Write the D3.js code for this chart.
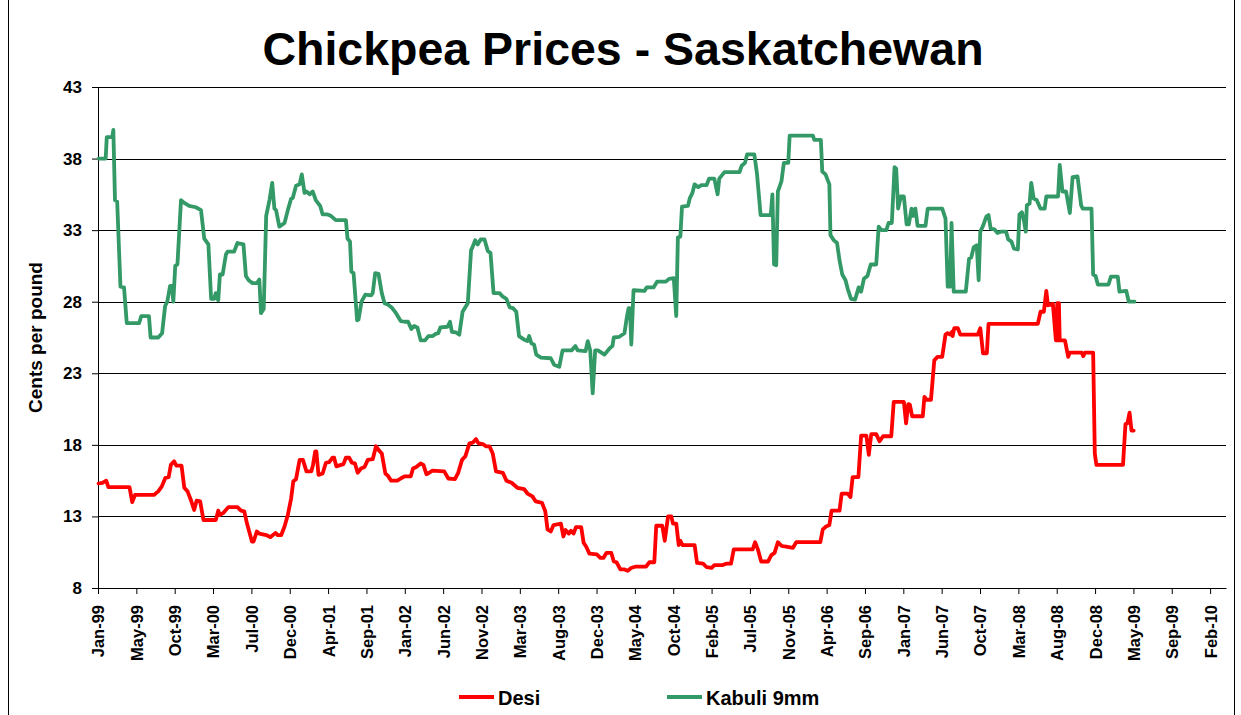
<!DOCTYPE html>
<html>
<head>
<meta charset="utf-8">
<script src="https://cdn.jsdelivr.net/npm/d3@7"></script>
<style>
  body { margin: 0; background: #fff; }
  svg text { font-family: Arial, 'Liberation Sans', sans-serif; font-weight: bold; fill: #000; }
</style>
</head>
<body>
<div id="chart"></div>
<script>
// Chart data (weekly price breakpoints)
var seriesNames = ['Desi', 'Kabuli 9mm']
var seriesColours = ['#ff0000', '#339966']

var desiPrices = [
  ['1999-01-08', 15.3], ['1999-01-22', 15.35], ['1999-02-05', 15.5], ['1999-02-13', 15.05], ['1999-05-01', 15.05],
  ['1999-05-11', 14.0], ['1999-05-21', 14.5], ['1999-07-29', 14.5], ['1999-08-14', 14.75], ['1999-08-27', 15.1],
  ['1999-09-09', 15.7], ['1999-09-21', 15.75], ['1999-09-29', 16.6], ['1999-10-11', 16.85], ['1999-10-19', 16.55],
  ['1999-11-07', 16.55], ['1999-11-17', 15.0], ['1999-11-29', 14.75], ['1999-12-11', 14.15], ['1999-12-23', 13.45],
  ['2000-01-01', 14.1], ['2000-01-14', 14.05], ['2000-01-26', 12.75], ['2000-03-11', 12.75], ['2000-03-20', 13.4],
  ['2000-03-26', 13.1], ['2000-04-08', 13.25], ['2000-04-26', 13.65], ['2000-05-29', 13.65], ['2000-06-11', 13.4],
  ['2000-06-23', 13.35], ['2000-07-03', 12.5], ['2000-07-21', 11.25], ['2000-07-27', 11.25], ['2000-08-08', 11.95],
  ['2000-08-17', 11.8], ['2000-09-11', 11.7], ['2000-09-26', 11.55], ['2000-10-15', 11.85], ['2000-10-23', 11.7],
  ['2000-11-05', 11.7], ['2000-11-17', 12.3], ['2000-11-29', 13.1], ['2000-12-11', 14.25], ['2000-12-19', 15.45],
  ['2000-12-29', 15.6], ['2001-01-11', 16.95], ['2001-01-23', 16.95], ['2001-02-05', 16.15], ['2001-02-23', 16.15],
  ['2001-03-01', 16.6], ['2001-03-09', 17.55], ['2001-03-13', 17.55], ['2001-03-21', 15.9], ['2001-04-05', 16.0],
  ['2001-04-17', 16.75], ['2001-04-29', 16.8], ['2001-05-11', 17.1], ['2001-05-17', 17.1], ['2001-05-25', 16.5],
  ['2001-06-11', 16.6], ['2001-06-20', 16.65], ['2001-06-29', 17.1], ['2001-07-11', 17.1], ['2001-07-21', 16.75],
  ['2001-08-01', 16.7], ['2001-08-11', 16.05], ['2001-08-23', 16.35], ['2001-09-05', 16.45], ['2001-09-17', 16.95],
  ['2001-10-05', 17.0], ['2001-10-17', 17.9], ['2001-10-26', 17.65], ['2001-11-07', 17.4], ['2001-11-20', 16.0],
  ['2001-11-29', 15.85], ['2001-12-11', 15.5], ['2002-01-03', 15.5], ['2002-01-15', 15.65], ['2002-01-29', 15.8],
  ['2002-02-21', 15.8], ['2002-03-01', 16.35], ['2002-03-13', 16.45], ['2002-03-29', 16.7], ['2002-04-08', 16.6],
  ['2002-04-19', 15.95], ['2002-04-29', 16.05], ['2002-05-11', 16.2], ['2002-06-23', 16.15], ['2002-07-08', 15.65],
  ['2002-08-01', 15.6], ['2002-08-13', 16.05], ['2002-08-27', 16.95], ['2002-09-08', 17.2], ['2002-09-23', 18.1],
  ['2002-10-05', 18.15], ['2002-10-17', 18.4], ['2002-10-26', 18.1], ['2002-11-11', 18.05], ['2002-11-23', 17.9],
  ['2002-12-05', 17.9], ['2002-12-17', 17.4], ['2002-12-29', 16.15], ['2003-01-23', 16.05], ['2003-02-05', 15.5],
  ['2003-02-24', 15.35], ['2003-03-17', 15.0], ['2003-04-11', 14.9], ['2003-04-23', 14.6], ['2003-05-11', 14.4],
  ['2003-05-23', 14.05], ['2003-06-15', 13.95], ['2003-06-27', 13.35], ['2003-07-05', 12.1], ['2003-07-17', 11.95],
  ['2003-07-27', 12.4], ['2003-08-23', 12.5], ['2003-09-01', 11.6], ['2003-09-09', 12.05], ['2003-09-21', 11.8],
  ['2003-09-29', 12.0], ['2003-10-08', 11.8], ['2003-10-17', 12.25], ['2003-11-05', 12.25], ['2003-11-14', 11.15],
  ['2003-11-23', 10.9], ['2003-12-05', 10.4], ['2004-01-01', 10.35], ['2004-01-14', 10.1], ['2004-01-25', 10.1],
  ['2004-02-05', 10.45], ['2004-02-23', 10.45], ['2004-03-03', 9.85], ['2004-03-13', 9.8], ['2004-03-27', 9.3],
  ['2004-04-11', 9.3], ['2004-04-23', 9.2], ['2004-05-05', 9.4], ['2004-05-23', 9.5], ['2004-06-29', 9.5],
  ['2004-07-11', 9.8], ['2004-07-29', 9.8], ['2004-08-05', 12.35], ['2004-08-27', 12.35], ['2004-09-05', 11.3],
  ['2004-09-17', 13.0], ['2004-09-29', 13.0], ['2004-10-05', 12.5], ['2004-10-17', 12.5], ['2004-10-26', 11.0],
  ['2004-11-01', 11.3], ['2004-11-09', 11.0], ['2004-12-23', 11.0], ['2005-01-01', 9.75], ['2005-01-23', 9.7],
  ['2005-02-05', 9.45], ['2005-02-23', 9.4], ['2005-03-05', 9.6], ['2005-04-05', 9.6], ['2005-04-17', 9.7],
  ['2005-05-05', 9.7], ['2005-05-15', 10.7], ['2005-07-23', 10.7], ['2005-08-01', 11.2], ['2005-08-11', 10.7],
  ['2005-08-23', 9.85], ['2005-09-17', 9.85], ['2005-09-29', 10.3], ['2005-10-11', 10.45], ['2005-10-23', 11.2],
  ['2005-11-05', 10.95], ['2005-11-17', 10.9], ['2005-12-17', 10.8], ['2005-12-29', 11.2], ['2006-03-27', 11.2],
  ['2006-04-05', 12.1], ['2006-04-17', 12.3], ['2006-04-29', 12.4], ['2006-05-07', 13.4], ['2006-06-05', 13.4],
  ['2006-06-13', 14.6], ['2006-07-05', 14.6], ['2006-07-15', 14.35], ['2006-07-23', 15.75], ['2006-08-13', 15.75],
  ['2006-08-23', 18.65], ['2006-09-11', 18.65], ['2006-09-20', 17.3], ['2006-09-29', 18.75], ['2006-10-17', 18.75],
  ['2006-10-29', 18.25], ['2006-11-11', 18.6], ['2006-12-11', 18.6], ['2006-12-20', 21.0], ['2007-01-26', 21.0],
  ['2007-02-03', 19.5], ['2007-02-11', 20.85], ['2007-02-17', 20.8], ['2007-02-25', 20.0], ['2007-04-05', 20.0],
  ['2007-04-11', 21.35], ['2007-04-19', 21.15], ['2007-05-05', 21.15], ['2007-05-17', 23.9], ['2007-05-29', 24.15],
  ['2007-06-15', 24.15], ['2007-06-27', 25.7], ['2007-07-05', 25.8], ['2007-07-14', 25.7], ['2007-07-21', 25.9],
  ['2007-07-23', 25.6], ['2007-07-29', 26.15], ['2007-08-11', 26.15], ['2007-08-20', 25.7], ['2007-10-23', 25.7],
  ['2007-11-01', 26.15], ['2007-11-11', 24.4], ['2007-11-25', 24.4], ['2007-12-01', 26.45], ['2008-05-29', 26.45],
  ['2008-06-08', 27.3], ['2008-06-20', 27.3], ['2008-06-29', 28.75], ['2008-07-05', 27.75], ['2008-07-23', 27.85],
  ['2008-08-03', 25.3], ['2008-08-08', 27.9], ['2008-08-11', 25.3], ['2008-08-14', 27.9], ['2008-08-17', 25.3],
  ['2008-09-05', 25.3], ['2008-09-17', 24.15], ['2008-09-23', 24.45], ['2008-11-05', 24.45], ['2008-11-11', 24.2],
  ['2008-11-17', 24.45], ['2008-12-17', 24.45], ['2008-12-23', 17.4], ['2008-12-29', 16.6], ['2009-04-05', 16.6],
  ['2009-04-14', 19.45], ['2009-04-21', 19.5], ['2009-04-29', 20.25], ['2009-05-06', 19.0], ['2009-05-14', 19.0]
]

var kabuliPrices = [
  ['1999-01-08', 38.0], ['1999-02-03', 38.0], ['1999-02-07', 39.5], ['1999-02-27', 39.5], ['1999-03-03', 40.0],
  ['1999-03-09', 35.1], ['1999-03-17', 35.0], ['1999-03-29', 29.05], ['1999-04-11', 29.0], ['1999-04-21', 26.5],
  ['1999-06-05', 26.5], ['1999-06-13', 27.0], ['1999-07-11', 27.0], ['1999-07-17', 25.5], ['1999-08-14', 25.5],
  ['1999-08-28', 25.8], ['1999-09-08', 27.7], ['1999-09-16', 28.0], ['1999-09-26', 29.1], ['1999-10-03', 29.1],
  ['1999-10-08', 28.0], ['1999-10-15', 30.5], ['1999-10-23', 30.6], ['1999-11-05', 35.1], ['1999-11-17', 34.9],
  ['1999-12-05', 34.7], ['1999-12-29', 34.6], ['2000-01-17', 34.4], ['2000-01-29', 32.4], ['2000-02-13', 32.0],
  ['2000-02-23', 28.2], ['2000-03-05', 28.2], ['2000-03-11', 28.6], ['2000-03-20', 28.1], ['2000-03-26', 29.9],
  ['2000-04-05', 29.9], ['2000-04-17', 31.3], ['2000-04-23', 31.5], ['2000-05-17', 31.5], ['2000-05-29', 32.1],
  ['2000-06-20', 32.0], ['2000-06-29', 29.8], ['2000-07-09', 29.5], ['2000-07-23', 29.3], ['2000-08-08', 29.3],
  ['2000-08-17', 29.55], ['2000-08-23', 27.2], ['2000-09-02', 27.5], ['2000-09-11', 34.0], ['2000-09-23', 35.1],
  ['2000-10-03', 36.3], ['2000-10-11', 34.5], ['2000-10-17', 34.4], ['2000-10-29', 33.25], ['2000-11-17', 33.5],
  ['2000-11-29', 34.4], ['2000-12-11', 35.2], ['2000-12-17', 35.25], ['2000-12-29', 36.1], ['2001-01-11', 36.2],
  ['2001-01-19', 36.9], ['2001-01-29', 35.6], ['2001-02-05', 35.7], ['2001-02-17', 35.5], ['2001-02-28', 35.7],
  ['2001-03-11', 35.1], ['2001-03-27', 34.7], ['2001-04-05', 34.1], ['2001-04-23', 34.1], ['2001-05-05', 34.0],
  ['2001-05-23', 33.7], ['2001-06-29', 33.7], ['2001-07-05', 32.4], ['2001-07-14', 32.2], ['2001-07-19', 30.1],
  ['2001-07-27', 30.0], ['2001-08-09', 26.7], ['2001-08-14', 26.75], ['2001-08-25', 28.0], ['2001-09-08', 28.5],
  ['2001-09-29', 28.45], ['2001-10-05', 28.6], ['2001-10-14', 30.0], ['2001-10-26', 29.95], ['2001-11-07', 28.6],
  ['2001-11-17', 27.9], ['2001-11-29', 27.8], ['2001-12-13', 27.6], ['2001-12-29', 27.2], ['2002-01-15', 26.65],
  ['2002-01-29', 26.6], ['2002-02-11', 26.6], ['2002-02-23', 26.1], ['2002-03-05', 26.3], ['2002-03-17', 26.2],
  ['2002-03-29', 25.3], ['2002-04-14', 25.3], ['2002-04-26', 25.6], ['2002-05-11', 25.6], ['2002-05-23', 25.75],
  ['2002-06-01', 25.8], ['2002-06-09', 26.2], ['2002-07-05', 26.25], ['2002-07-14', 26.6], ['2002-07-21', 25.9],
  ['2002-08-05', 25.85], ['2002-08-17', 25.7], ['2002-08-29', 27.3], ['2002-09-17', 27.9], ['2002-09-29', 31.6],
  ['2002-10-04', 31.8], ['2002-10-14', 32.3], ['2002-10-23', 32.0], ['2002-11-03', 32.35], ['2002-11-17', 32.35],
  ['2002-11-29', 31.55], ['2002-12-09', 31.4], ['2002-12-20', 28.6], ['2003-01-11', 28.6], ['2003-01-23', 28.35],
  ['2003-02-05', 28.2], ['2003-02-17', 27.6], ['2003-03-01', 27.55], ['2003-03-13', 27.3], ['2003-03-23', 25.6],
  ['2003-04-11', 25.35], ['2003-04-23', 25.25], ['2003-04-29', 25.6], ['2003-05-07', 25.1], ['2003-05-17', 25.0],
  ['2003-05-25', 24.3], ['2003-06-11', 24.1], ['2003-07-17', 24.05], ['2003-07-29', 23.6], ['2003-08-17', 23.45],
  ['2003-08-29', 24.6], ['2003-10-01', 24.6], ['2003-10-15', 24.9], ['2003-10-23', 24.6], ['2003-11-21', 24.55],
  ['2003-11-29', 25.25], ['2003-12-08', 24.6], ['2003-12-17', 21.6], ['2003-12-26', 24.6], ['2004-01-05', 24.6],
  ['2004-01-29', 24.3], ['2004-02-17', 24.75], ['2004-02-27', 24.9], ['2004-03-03', 25.5], ['2004-03-23', 25.55],
  ['2004-04-11', 25.8], ['2004-04-19', 26.85], ['2004-04-26', 27.55], ['2004-05-01', 27.55], ['2004-05-06', 25.0],
  ['2004-05-14', 28.8], ['2004-06-23', 28.75], ['2004-07-01', 29.0], ['2004-07-26', 29.0], ['2004-08-08', 29.4],
  ['2004-09-09', 29.4], ['2004-09-21', 29.6], ['2004-10-08', 29.65], ['2004-10-17', 27.0], ['2004-10-23', 32.5],
  ['2004-11-01', 32.55], ['2004-11-07', 34.65], ['2004-11-29', 34.7], ['2004-12-05', 35.2], ['2004-12-15', 35.6],
  ['2004-12-23', 36.2], ['2005-01-05', 36.0], ['2005-01-17', 36.15], ['2005-02-05', 36.15], ['2005-02-14', 36.6],
  ['2005-03-05', 36.6], ['2005-03-17', 35.5], ['2005-03-23', 36.6], ['2005-04-11', 37.05], ['2005-06-05', 37.05],
  ['2005-06-13', 37.5], ['2005-06-25', 37.7], ['2005-07-03', 38.3], ['2005-07-29', 38.3], ['2005-08-08', 36.9],
  ['2005-08-21', 34.05], ['2005-09-27', 34.05], ['2005-10-03', 35.5], ['2005-10-09', 30.6], ['2005-10-17', 30.55],
  ['2005-10-23', 35.7], ['2005-11-05', 36.4], ['2005-11-14', 37.7], ['2005-11-30', 37.7], ['2005-12-05', 39.6],
  ['2006-02-28', 39.6], ['2006-03-05', 39.3], ['2006-03-29', 39.3], ['2006-04-03', 37.1], ['2006-04-15', 36.9],
  ['2006-04-29', 36.2], ['2006-05-03', 32.65], ['2006-05-15', 32.3], ['2006-05-27', 32.1], ['2006-06-05', 30.9],
  ['2006-06-15', 29.9], ['2006-06-27', 29.5], ['2006-07-05', 28.9], ['2006-07-17', 28.2], ['2006-08-01', 28.15],
  ['2006-08-14', 29.0], ['2006-08-23', 28.7], ['2006-09-02', 29.6], ['2006-09-15', 29.8], ['2006-09-27', 30.6],
  ['2006-10-17', 30.6], ['2006-10-26', 33.25], ['2006-11-05', 33.0], ['2006-11-23', 33.0], ['2006-12-01', 33.5],
  ['2006-12-13', 33.5], ['2006-12-23', 37.4], ['2006-12-29', 37.3], ['2007-01-05', 34.5], ['2007-01-15', 35.35],
  ['2007-01-26', 35.35], ['2007-02-05', 33.4], ['2007-02-13', 33.4], ['2007-02-23', 34.5], ['2007-03-01', 34.0],
  ['2007-03-09', 34.5], ['2007-03-17', 33.3], ['2007-04-15', 33.3], ['2007-04-23', 34.5], ['2007-06-15', 34.5],
  ['2007-06-27', 33.8], ['2007-07-05', 29.05], ['2007-07-14', 29.05], ['2007-07-19', 33.5], ['2007-07-27', 28.7],
  ['2007-09-09', 28.7], ['2007-09-21', 31.0], ['2007-09-29', 31.1], ['2007-10-08', 31.8], ['2007-10-19', 31.95],
  ['2007-10-26', 29.5], ['2007-11-01', 32.9], ['2007-11-11', 33.3], ['2007-11-23', 33.95], ['2007-12-01', 34.05],
  ['2007-12-09', 33.1], ['2007-12-23', 33.05], ['2008-01-03', 32.8], ['2008-01-17', 32.9], ['2008-02-03', 32.9],
  ['2008-02-11', 32.35], ['2008-02-23', 32.2], ['2008-03-03', 31.7], ['2008-03-17', 31.65], ['2008-03-23', 34.1],
  ['2008-04-01', 34.25], ['2008-04-09', 33.6], ['2008-04-15', 32.9], ['2008-04-19', 34.75], ['2008-04-29', 34.85],
  ['2008-05-05', 36.3], ['2008-05-14', 35.2], ['2008-05-25', 35.1], ['2008-06-08', 34.5], ['2008-06-23', 34.5],
  ['2008-06-29', 35.35], ['2008-08-11', 35.35], ['2008-08-17', 37.55], ['2008-08-27', 35.7], ['2008-09-09', 35.7],
  ['2008-09-23', 34.2], ['2008-10-03', 36.7], ['2008-10-21', 36.75], ['2008-11-03', 34.75], ['2008-11-09', 34.5],
  ['2008-12-11', 34.5], ['2008-12-17', 29.9], ['2008-12-26', 29.8], ['2009-01-03', 29.2], ['2009-02-11', 29.2],
  ['2009-02-20', 29.75], ['2009-03-17', 29.75], ['2009-03-23', 28.7], ['2009-04-17', 28.75], ['2009-04-26', 28.0],
  ['2009-05-17', 28.0]
]

// Axis values
var yTicks = [8, 13, 18, 23, 28, 33, 38, 43]
var xTickLabels = ['Jan-99', 'May-99', 'Oct-99', 'Mar-00', 'Jul-00', 'Dec-00', 'Apr-01', 'Sep-01', 'Jan-02', 'Jun-02',
  'Nov-02', 'Mar-03', 'Aug-03', 'Dec-03', 'May-04', 'Oct-04', 'Feb-05', 'Jul-05', 'Nov-05', 'Apr-06',
  'Sep-06', 'Jan-07', 'Jun-07', 'Oct-07', 'Mar-08', 'Aug-08', 'Dec-08', 'May-09', 'Sep-09', 'Feb-10']
var xAxisStart = '1999-01-06'
var xAxisEnd = '2010-04-16'
var xTickStepDays = 140

// Layout variables
var width = 1241
var height = 715
var margin = { top: 87, right: 15, bottom: 127, left: 98 }
var plotW = width - margin.left - margin.right
var plotH = height - margin.top - margin.bottom

var parseDate = d3.timeParse('%Y-%m-%d')
var svg, plot, xScale, yScale

function drawChart () {
  svg = d3.select('#chart').append('svg')
    .attr('width', width)
    .attr('height', height)

  svg.append('rect')
    .attr('width', width)
    .attr('height', height)
    .attr('fill', '#fff')

  // outer chart border (only the sides are visible in the picture)
  svg.append('rect')
    .attr('x', 8.5)
    .attr('y', -5)
    .attr('width', 1226)
    .attr('height', height + 10)
    .attr('fill', 'none')
    .attr('stroke', '#000')
    .attr('stroke-width', 1)

  svg.append('text')
    .attr('x', 623)
    .attr('y', 65)
    .attr('text-anchor', 'middle')
    .style('font-size', '46.5px')
    .text('Chickpea Prices - Saskatchewan')

  plot = svg.append('g')
    .attr('transform', 'translate(' + margin.left + ',' + margin.top + ')')

  xScale = d3.scaleTime()
    .domain([parseDate(xAxisStart), parseDate(xAxisEnd)])
    .range([0, plotW])

  yScale = d3.scaleLinear()
    .domain([d3.min(yTicks), d3.max(yTicks)])
    .range([plotH, 0])

  // Horizontal gridlines
  plot.selectAll('.grid')
    .data(yTicks.slice(1))
    .enter().append('line')
    .attr('class', 'grid')
    .attr('x1', 0)
    .attr('x2', plotW)
    .attr('y1', function (d) { return Math.round(yScale(d)) + 0.5 })
    .attr('y2', function (d) { return Math.round(yScale(d)) + 0.5 })
    .attr('stroke', '#000')
    .attr('stroke-width', 1)

  drawAxes()
  drawLines()
  drawLegend()
}

function drawAxes () {
  var tickDates = xTickLabels.map(function (d, i) {
    return d3.timeDay.offset(parseDate(xAxisStart), i * xTickStepDays)
  })

  var xAxis = plot.append('g')
    .attr('transform', 'translate(0,' + plotH + ')')
    .call(d3.axisBottom(xScale)
      .tickValues(tickDates)
      .tickFormat(function (d, i) { return xTickLabels[i] })
      .tickSize(6)
      .tickSizeOuter(0))

  xAxis.select('.domain').attr('stroke', '#000')
  xAxis.selectAll('.tick line').attr('stroke', '#000')
  xAxis.selectAll('.tick text')
    .attr('transform', 'rotate(-90)')
    .attr('text-anchor', 'end')
    .attr('x', -17)
    .attr('y', 0)
    .attr('dy', '0.36em')
    .style('font-size', '16.5px')
    .style('font-family', 'Arial, "Liberation Sans", sans-serif')

  var yAxis = plot.append('g')
    .call(d3.axisLeft(yScale)
      .tickValues(yTicks)
      .tickFormat(d3.format('d'))
      .tickSize(6)
      .tickSizeOuter(0))

  yAxis.select('.domain').attr('stroke', '#000')
  yAxis.selectAll('.tick line').attr('stroke', '#000')
  yAxis.selectAll('.tick text')
    .attr('x', -16)
    .style('font-size', '17px')
    .style('font-family', 'Arial, "Liberation Sans", sans-serif')

  svg.append('text')
    .attr('transform', 'translate(42,' + (margin.top + plotH / 2) + ') rotate(-90)')
    .attr('text-anchor', 'middle')
    .style('font-size', '19px')
    .text('Cents per pound')
}

function drawLines () {
  var line = d3.line()
    .x(function (d) { return xScale(parseDate(d[0])) })
    .y(function (d) { return yScale(d[1]) })

  ;[desiPrices, kabuliPrices].forEach(function (series, i) {
    plot.append('path')
      .datum(series)
      .attr('fill', 'none')
      .attr('stroke', seriesColours[i])
      .attr('stroke-width', 3.8)
      .attr('stroke-linejoin', 'round')
      .attr('stroke-linecap', 'round')
      .attr('d', line)
  })
}

function drawLegend () {
  var legend = svg.append('g')
    .attr('transform', 'translate(459,697)')

  var item = legend.selectAll('.legend-item')
    .data(seriesNames)
    .enter().append('g')
    .attr('class', 'legend-item')
    .attr('transform', function (d, i) { return 'translate(' + (i * 208) + ',0)' })

  item.append('line')
    .attr('x1', 0)
    .attr('x2', 35)
    .attr('stroke', function (d, i) { return seriesColours[i] })
    .attr('stroke-width', 4)

  item.append('text')
    .attr('x', 39)
    .attr('y', 8)
    .style('font-size', '20px')
    .text(function (d) { return d })
}

drawChart()
</script>
</body>
</html>
